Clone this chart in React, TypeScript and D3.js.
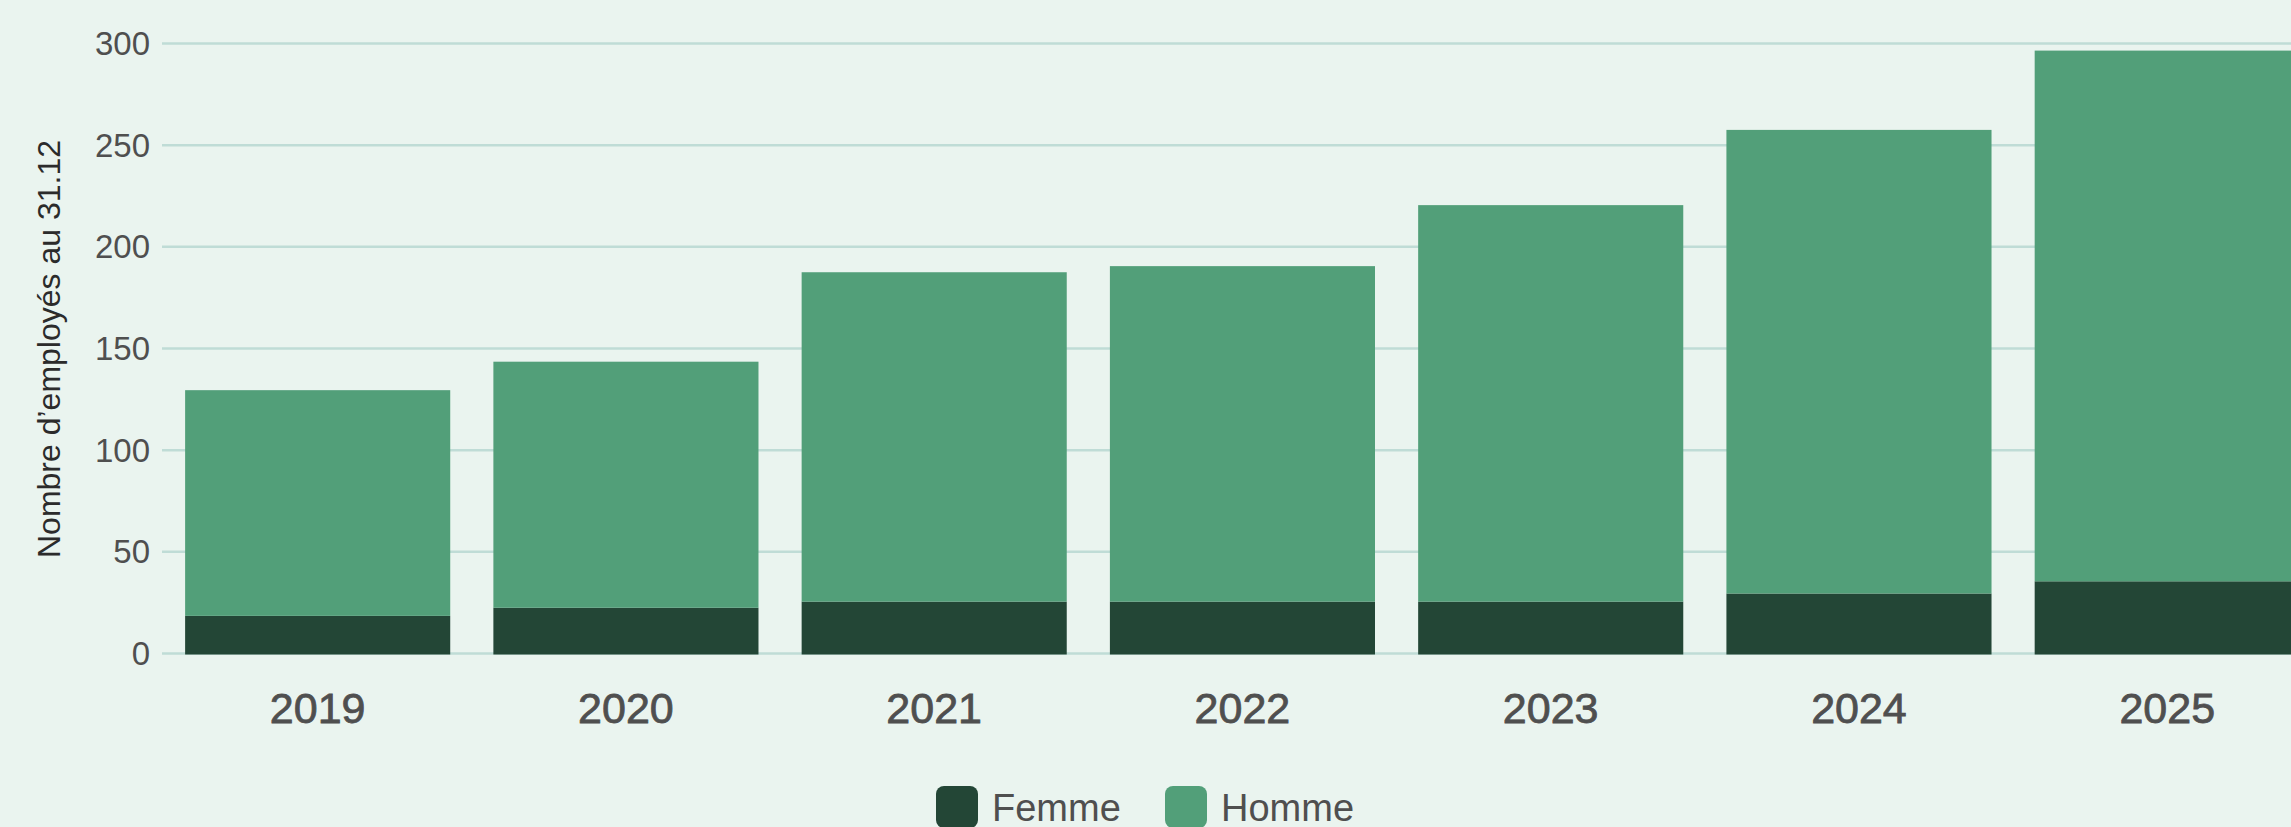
import * as React from 'react';
import {scaleBand as d3ScaleBand, scaleLinear as d3ScaleLinear, select as d3Select} from 'd3';

// Values (employees at 31.12).
const years = ['2019', '2020', '2021', '2022', '2023', '2024', '2025'];
const femme = [19, 23, 26, 26, 26, 30, 36];
const homme = [111, 121, 162, 165, 195, 228, 261];
const yTicks = [0, 50, 100, 150, 200, 250, 300];
const seriesNames = ['Femme', 'Homme'];
const seriesColors = ['#234636', '#529f79'];

const WIDTH = 2291;
const HEIGHT = 827;
const FONT = '"Liberation Sans", Arial, sans-serif';

export default class App extends React.Component<{}, {}> {
  private _svg: SVGSVGElement | null = null;

  public componentDidMount() {
    document.body.style.margin = '0';
    this._draw();
  }

  private _draw() {
    if (!this._svg) {
      return;
    }
    const svg = d3Select(this._svg);
    svg.selectAll('*').remove();

    svg.append('rect')
      .attr('width', WIDTH)
      .attr('height', HEIGHT)
      .attr('fill', '#eaf4ef');

    // the last band runs past the right edge, as in the original
    const plotLeft = 162;
    const step = 308.7;
    const x = d3ScaleBand<string>()
      .domain(years)
      .range([plotLeft, plotLeft + years.length * step])
      .paddingInner(0.14)
      .paddingOuter(0.075);
    const y = d3ScaleLinear().domain([0, 300]).range([654.5, 44.5]);

    // gridlines
    svg.append('g').selectAll('line')
      .data(yTicks)
      .enter()
      .append('line')
      .attr('x1', plotLeft)
      .attr('x2', WIDTH)
      .attr('y1', (d) => y(d) - 1)
      .attr('y2', (d) => y(d) - 1)
      .attr('stroke', '#bfdcd6')
      .attr('stroke-width', 2.5);

    // y tick labels
    svg.append('g').selectAll('text')
      .data(yTicks)
      .enter()
      .append('text')
      .attr('x', 150)
      .attr('y', (d) => y(d) - 1 + 11.5)
      .attr('text-anchor', 'end')
      .attr('font-family', FONT)
      .attr('font-size', 33)
      .attr('fill', '#4f4f4f')
      .text((d) => `${d}`);

    // stacked bars: femme at the bottom, homme on top
    const bars = svg.append('g');
    years.forEach((yr, i) => {
      const x0 = x(yr) as number;
      bars.append('rect')
        .attr('x', x0)
        .attr('width', x.bandwidth())
        .attr('y', y(femme[i]))
        .attr('height', y(0) - y(femme[i]))
        .attr('fill', seriesColors[0]);
      bars.append('rect')
        .attr('x', x0)
        .attr('width', x.bandwidth())
        .attr('y', y(femme[i] + homme[i]))
        .attr('height', y(femme[i]) - y(femme[i] + homme[i]))
        .attr('fill', seriesColors[1]);
    });

    // x labels (a touch heavier than the tick labels)
    svg.append('g').selectAll('text')
      .data(years)
      .enter()
      .append('text')
      .attr('x', (d) => (x(d) as number) + x.bandwidth() / 2)
      .attr('y', 723)
      .attr('text-anchor', 'middle')
      .attr('font-family', FONT)
      .attr('font-size', 43)
      .attr('fill', '#4f4f4f')
      .attr('stroke', '#4f4f4f')
      .attr('stroke-width', 0.8)
      .text((d) => d);

    // y axis title
    svg.append('text')
      .attr('transform', `translate(60, 349) rotate(-90)`)
      .attr('text-anchor', 'middle')
      .attr('font-family', FONT)
      .attr('font-size', 32)
      .attr('fill', '#2b2b2b')
      .text('Nombre d\u2019employés au 31.12');

    // legend (sits on the bottom edge, clipped like the original)
    const legendX = [936, 1165];
    const legend = svg.append('g');
    seriesNames.forEach((name, i) => {
      legend.append('rect')
        .attr('x', legendX[i])
        .attr('y', 786)
        .attr('width', 42)
        .attr('height', 42)
        .attr('rx', 8)
        .attr('fill', seriesColors[i]);
      legend.append('text')
        .attr('x', legendX[i] + 56)
        .attr('y', 821)
        .attr('font-family', FONT)
        .attr('font-size', 38)
        .attr('fill', '#4f4f4f')
        .text(name);
    });
  }

  public render() {
    return <svg
      ref={(el) => { this._svg = el; }}
      width={WIDTH}
      height={HEIGHT}
      style={{position: 'absolute', left: 0, top: 0, display: 'block'}}
    />;
  }
}
